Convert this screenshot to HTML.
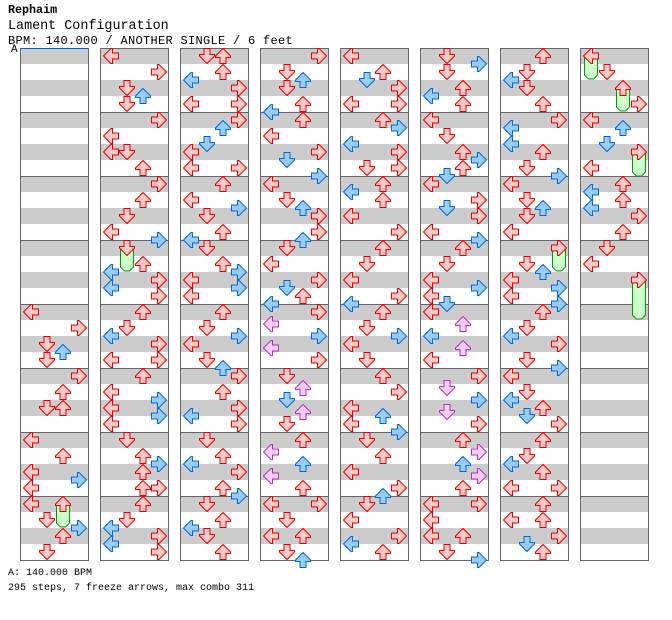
<!DOCTYPE html>
<html><head><meta charset="utf-8"><style>
body{margin:0;background:#fff;width:672px;height:620px;overflow:hidden;position:relative;font-family:"Liberation Mono",monospace;color:#000}
.t{position:absolute;left:8px;white-space:pre}
</style></head><body>
<div class="t" style="top:3px;font-size:11.7px;font-weight:bold">Rephaim</div>
<div class="t" style="top:19px;font-size:13.4px">Lament Configuration</div>
<div class="t" style="top:34px;font-size:12px;letter-spacing:0.3px">BPM: 140.000 / ANOTHER SINGLE / 6 feet</div>
<div class="t" style="top:44px;left:11px;font-size:11px">A</div>
<div class="t" style="top:568px;font-size:10px">A: 140.000 BPM</div>
<div class="t" style="top:583px;font-size:10px">295 steps, 7 freeze arrows, max combo 311</div>
<svg id="s" width="672" height="620" style="position:absolute;left:0;top:0" xmlns="http://www.w3.org/2000/svg">
<defs><polygon id="d" points="5,0.5 11,0.5 11,6.5 15.5,6.5 15.5,8 8,15.5 0.5,8 0.5,6.5 5,6.5"/></defs>
</svg>
<script>
var S=document.getElementById('s'),NS='http://www.w3.org/2000/svg',h='';
for(var c=0;c<8;c++){var x0=20+80*c;
 for(var m=0;m<8;m++){var y=48+64*m;h+='<rect x="'+x0+'" y="'+y+'" width="68" height="16" fill="#cccccc"/><rect x="'+x0+'" y="'+(y+32)+'" width="68" height="16" fill="#cccccc"/>';
  if(m>0)h+='<line x1="'+x0+'" x2="'+(x0+68)+'" y1="'+(y+0.5)+'" y2="'+(y+0.5)+'" stroke="#666"/>';}
 h+='<rect x="'+(x0+0.5)+'" y="48.5" width="68" height="512" fill="none" stroke="#666"/>';}
h+='<line x1="20" x2="88" y1="48.5" y2="48.5" stroke="#0066cc"/>';
var F=[[0,2,112,527],[1,1,48,271],[6,3,48,271],[7,0,0,79],[7,2,8,111],[7,3,24,176],[7,3,56,319]];
F.forEach(function(f){var x=20+80*f[0]+3+16*f[1]+0.5,y=48+4*f[2]+8,e=f[3];
 h+='<polygon points="'+(x+1)+','+y+' '+(x+14)+','+y+' '+(x+14)+','+(e-4)+' '+(x+10)+','+e+' '+(x+5)+','+e+' '+(x+1)+','+(e-4)+'" fill="#ccffcc" stroke="#009900"/>';});
var D=[
"L64 R68 D72 U74 D76 R80 U84 D88 U88 L96 U100 L104 R106 L108 L112 U112 D116 R118 U120 D124",
"L0 R4 D8 U10 D12 R16 L20 L24 D24 U28 R32 U36 D40 L44 R46 D48 U52 L54 R56 L58 R60 U64 D68 L70 R72 L76 R76 U80 L84 R86 L88 R90 L92 D96 U100 R102 U104 U108 R108 U112 D116 L118 R120 L122 R124",
"D0 U0 U4 L6 R8 L12 R12 R16 U18 D22 L24 L28 R28 U32 L36 R38 D40 U44 L46 D48 U52 R54 L56 R58 L60 U64 D68 R70 L72 D76 U78 R80 U84 R88 L90 R92 D96 U100 L102 R104 U108 R110 D112 U116 L118 D120 U124",
"R0 D4 U6 D8 U12 L14 U16 L20 R24 D26 R30 L32 D36 U38 R40 R44 U46 D48 L52 R56 D58 U60 L62 R64 L67 R70 L73 R76 D80 U83 D86 U89 D92 U96 L99 U102 L105 U108 L112 R112 D116 L120 U120 D124 U126",
"L0 U4 D6 R8 L12 R12 U16 R18 L22 R24 D28 R28 U32 L34 U36 L40 R44 U48 D52 L56 R60 L62 U64 D68 R70 L72 D76 U80 R84 L88 U90 L92 R94 D96 U100 L104 R108 U110 D112 L116 R120 L122 U124",
"D0 R2 D4 U8 L10 U12 L16 D20 U24 R26 U28 D30 L32 R36 D38 R40 L44 R46 U48 D52 L56 R58 L60 D62 L64 U67 L70 U73 L76 R80 D83 R86 D89 R92 U96 R99 U102 R105 U108 L112 R112 L116 L120 U120 D124 R126",
"U0 D4 L6 D8 U12 R16 L18 L22 U24 D28 R30 L32 D36 U38 D40 L44 R48 D52 U54 L56 R58 L60 R62 U64 D68 L70 R72 D76 R78 L80 D84 L86 U88 D90 R92 U96 D100 L102 U104 L108 R108 U112 L116 U116 R120 D122 U124",
"L0 D4 U8 R12 L16 U18 D22 R24 L28 U32 L34 U36 L38 R40 U44 D48 L52 R56"];
var LN={L:0,D:1,U:2,R:3},RT=[90,0,180,270];
D.forEach(function(row,c){row.split(' ').forEach(function(n){var l=LN[n[0]],t=+n.slice(1);
 var x=20+80*c+3+16*l,y=48+4*t,fi,st;
 if(t%4==0){fi='#ffc8c8';st='#dd0000';}else if(t%2==0){fi='#99ccff';st='#0066cc';}else{fi='#ffccff';st='#aa33aa';}
 h+='<use href="#d" transform="translate('+x+','+y+') rotate('+RT[l]+',8,8)" fill="'+fi+'" stroke="'+st+'"/>';});});
S.insertAdjacentHTML('beforeend',h);
</script>
</body></html>
